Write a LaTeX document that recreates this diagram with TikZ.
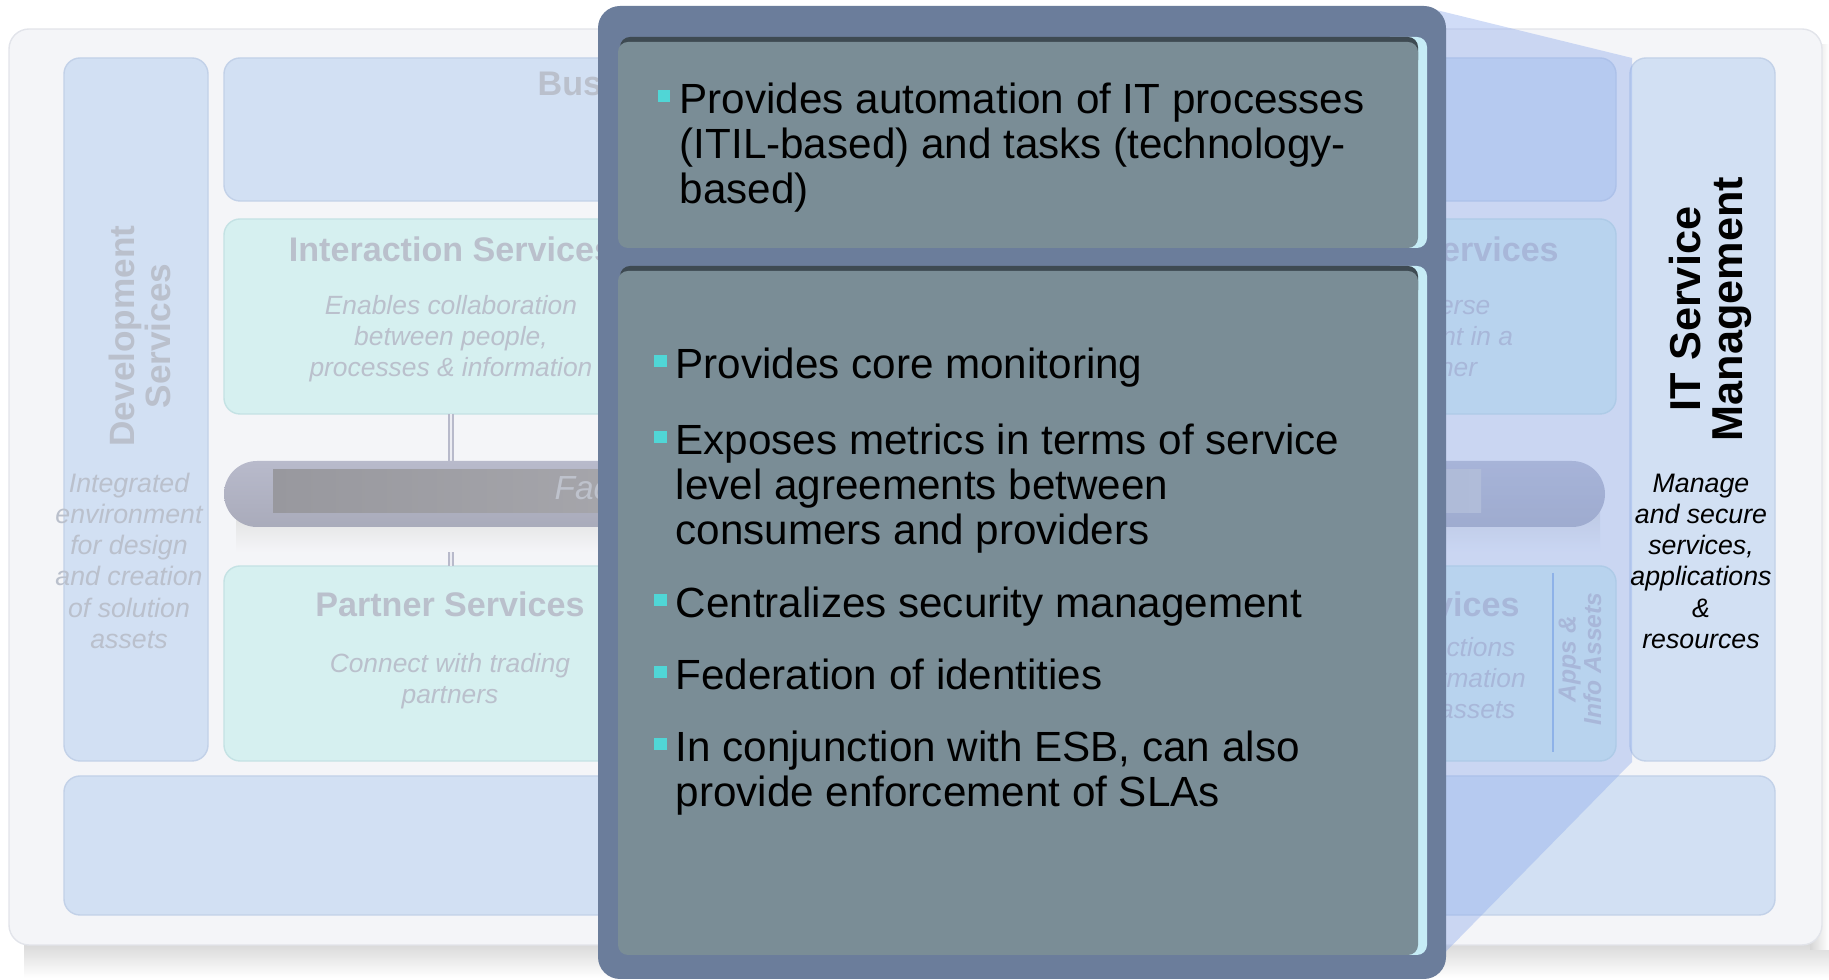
\documentclass[tikz,border=0pt]{standalone}
\usepackage{fontspec}
\setmainfont{Liberation Sans}
\usetikzlibrary{calc}

\definecolor{panelbg}{HTML}{F4F5F8}
\definecolor{panelline}{HTML}{E2E4EA}
\definecolor{soablue}{HTML}{D2E0F3}
\definecolor{soabluedk}{HTML}{C2D1E8}
\definecolor{soacyan}{HTML}{D6F0F0}
\definecolor{soacyandk}{HTML}{C4E2E4}
\definecolor{ghosttext}{HTML}{BAC0CC}
\definecolor{busgray}{HTML}{B8BACB}
\definecolor{buslight}{HTML}{ECEDF3}
\definecolor{platedk}{HTML}{98989E}
\definecolor{platelt}{HTML}{C8C8CC}
\definecolor{calloutframe}{HTML}{6B7D9B}
\definecolor{calloutfill}{HTML}{7A8D96}
\definecolor{bevel}{HTML}{3E4A52}
\definecolor{bevelhi}{HTML}{C6ECF6}
\definecolor{bulletcyan}{HTML}{50D6D6}
\definecolor{projblue}{HTML}{90ACEC}
\definecolor{divider}{HTML}{8DB8E6}

\tikzset{
  bluebox/.style={fill=soablue, draw=soabluedk, line width=0.4pt, rounded corners=0.16cm},
  cyanbox/.style={fill=soacyan, draw=soacyandk, line width=0.4pt, rounded corners=0.16cm},
  heading/.style={text=ghosttext, font=\fontsize{9.7}{11}\selectfont\bfseries, anchor=base, inner sep=0pt},
  ghostdesc/.style={text=ghosttext, font=\fontsize{7.5}{8.8}\selectfont\itshape, align=center, anchor=north, inner sep=0pt},
  sidedesc/.style={font=\fontsize{7.6}{8.9}\selectfont\itshape, align=center, anchor=north, inner sep=0pt},
  bullettext/.style={font=\fontsize{12}{12.8}\selectfont, align=left, anchor=north west, inner sep=0pt},
  bulletsq/.style={fill=bulletcyan},
  connector/.style={line width=0.06cm, busgray},
}

\begin{document}
\begin{tikzpicture}[x=0.01cm, y=-0.01cm]
		\useasboundingbox (0,0) rectangle (1829,980);
		
		%%%%% BACKGROUND PANEL %%%%%
		\shade[top color=black!22, bottom color=white] (24,928) rectangle (1829,978);
		\shade[left color=black!16, right color=white] (1810,45) rectangle (1829,950);
		\draw[fill=panelbg, draw=panelline, rounded corners=0.2cm] (9,29) rectangle (1822,945);
		
		%%%%% SOA BOXES %%%%%
		\draw[bluebox] (64,58) rectangle (208,761);
		\draw[bluebox] (224,58) rectangle (1616,201);
		\draw[cyanbox] (224,219) rectangle (676,414);
		\draw[cyanbox] (695,219) rectangle (1166,414);
		\draw[cyanbox] (1180,219) rectangle (1616,414);
		\draw[cyanbox] (224,566) rectangle (676,761);
		\draw[cyanbox] (695,566) rectangle (1166,761);
		\draw[cyanbox] (1180,566) rectangle (1616,761);
		\draw[bluebox] (64,776) rectangle (1775,915);
		\draw[bluebox] (1630,58) rectangle (1775,761);
		
		% bus connectors
		\foreach \cx/\cn in {451/a, 930/b, 1398/c}{
			\coordinate (up\cn) at (\cx,414);
			\coordinate (down\cn) at (\cx,566);
			\draw[connector] (up\cn) -- (down\cn);
			\draw[line width=0.015cm, buslight] (up\cn) -- (down\cn);
		}
		
		% bus
		\shade[top color=black!12, bottom color=panelbg] (236,512) rectangle (1600,552);
		\shade[top color=busgray, middle color=buslight, bottom color=busgray!92!black, rounded corners=0.33cm] (224,461) rectangle (1605,527);
		\shade[left color=platedk, right color=platelt] (273,470) rectangle (1481,513);
		\node[text=ghosttext!70!platelt, font=\fontsize{9.5}{11}\selectfont\itshape, anchor=base west, inner sep=0pt] (busLabel) at (554,500) {Facilitates};
		
		%%%%% GHOST TEXTS %%%%%
		\node[heading, anchor=base west] (hBusiness) at (537,96) {Business Services};
		\node[heading] (hInteract) at (451,262) {Interaction Services};
		\node[heading] (hInfo) at (1390,262) {Information Services};
		\node[heading] (hPartner) at (450,617) {Partner Services};
		\node[heading] (hAccess) at (1385,617) {Access Services};
		
		\node[ghostdesc] (dInteract) at (451,295) {Enables collaboration\\between people,\\processes \& information};
		\node[ghostdesc] (dInfo) at (1390,295) {Manages diverse\\data and content in a\\unified manner};
		\node[ghostdesc] (dPartner) at (450,653) {Connect with trading\\partners};
		\node[ghostdesc] (dAccess) at (1385,637) {Facilitates interactions\\with existing information\\and application assets};
		
		\draw[divider, line width=0.02cm] (1553,573) -- (1553,752);
		\node[rotate=90, text=ghosttext, font=\fontsize{7}{7.3}\selectfont\bfseries\itshape, align=center, inner sep=0pt] (tApps) at (1580,659) {Apps \&\\Info Assets};
		
		\node[rotate=90, text=ghosttext, font=\fontsize{10}{10.2}\selectfont\bfseries, align=center, inner sep=0pt] (tDev) at (140,336) {Development\\Services};
		\node[sidedesc, text=ghosttext] (dDev) at (129,472) {Integrated\\environment\\for design\\and creation\\of solution\\assets};
		
		%%%%% PROJECTION %%%%%
		\fill[projblue, fill opacity=0.42] (1420,6) -- (1632,58) -- (1632,762) -- (1420,978) -- cycle;
		
		%%%%% IT SERVICE MANAGEMENT %%%%%
		\node[rotate=90, font=\fontsize{12.3}{12}\selectfont\bfseries, align=center, inner sep=0pt] (tItsm) at (1710,309) {IT Service\\Management};
		\node[sidedesc] (dItsm) at (1701,473) {Manage\\and secure\\services,\\applications\\\&\\resources};
		
		%%%%% CALLOUT %%%%%
		\fill[calloutframe, rounded corners=0.22cm] (598,6) rectangle (1446,979);
		
		\fill[bevelhi, rounded corners=0.1cm] (1380,37) rectangle (1427,248);
		\fill[bevel, rounded corners=0.1cm] (620,37) rectangle (1418,70);
		\fill[calloutfill, rounded corners=0.1cm] (618,42) rectangle (1418,248);
		
		\fill[bevelhi, rounded corners=0.1cm] (1380,266) rectangle (1427,955);
		\fill[bevel, rounded corners=0.1cm] (620,266) rectangle (1418,300);
		\fill[calloutfill, rounded corners=0.1cm] (618,271) rectangle (1418,955);
		
		% top bullet
		\fill[bulletsq] (658,90) rectangle (670,102);
		\node[bullettext] (itemAuto) at (679,82) {Provides automation of IT processes\\(ITIL-based) and tasks (technology-\\based)};
		
		% lower bullets
		\foreach \by in {378, 454, 617, 689, 761}{
			\fill[bulletsq] (654,\by-23) rectangle (667,\by-11);
		}
		\node[bullettext] (itemMon) at (675,347) {Provides core monitoring};
		\node[bullettext] (itemSla) at (675,423) {Exposes metrics in terms of service\\level agreements between\\consumers and providers};
		\node[bullettext] (itemSec) at (675,586) {Centralizes security management};
		\node[bullettext] (itemFed) at (675,658) {Federation of identities};
		\node[bullettext] (itemEsb) at (675,730) {In conjunction with ESB, can also\\provide enforcement of SLAs};
		
\end{tikzpicture}
\end{document}
